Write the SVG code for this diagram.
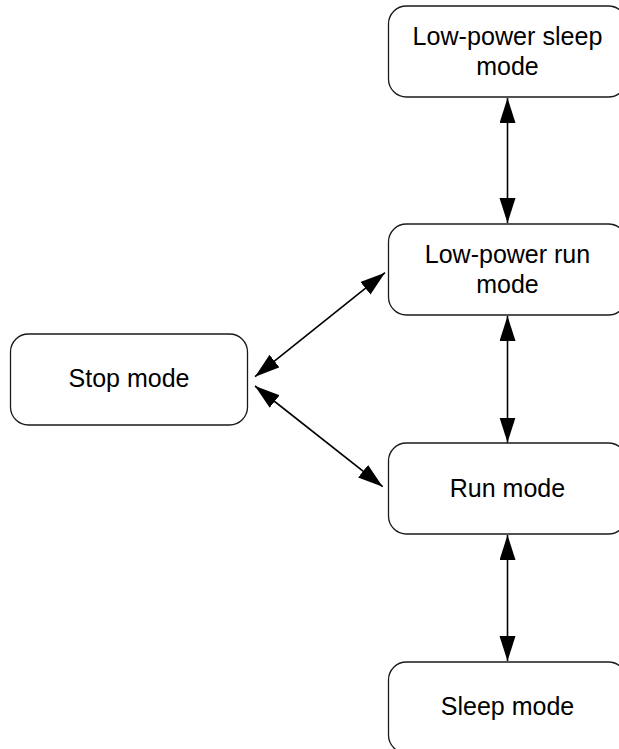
<svg xmlns="http://www.w3.org/2000/svg" width="619" height="749" viewBox="0 0 619 749">
<style>
.box{fill:#fff;stroke:#1a1a1a;stroke-width:1.3}
.lbl{font-family:"Liberation Sans",Arial,sans-serif;font-size:25px;fill:#000;text-anchor:middle}
.con{stroke:#000;stroke-width:1.6;fill:none;marker-start:url(#ah);marker-end:url(#ah)}
</style>
<defs>
<marker id="ah" markerUnits="userSpaceOnUse" markerWidth="26" markerHeight="18" refX="25" refY="8" orient="auto-start-reverse">
<path d="M0,0 L25,8 L0,16 z" fill="#000"/>
</marker>
</defs>
<rect width="619" height="749" fill="#fff"/>
<g id="lp-sleep">
<rect class="box" x="388.5" y="6" width="238" height="91" rx="18"/>
<text class="lbl" x="507.5" y="45" textLength="190" lengthAdjust="spacingAndGlyphs">Low-power sleep</text>
<text class="lbl" x="507.5" y="75">mode</text>
</g>
<g id="lp-run">
<rect class="box" x="388.5" y="224" width="238" height="91" rx="18"/>
<text class="lbl" x="507.5" y="263">Low-power run</text>
<text class="lbl" x="507.5" y="293">mode</text>
</g>
<g id="stop">
<rect class="box" x="10.5" y="334" width="237" height="91" rx="18"/>
<text class="lbl" x="129" y="387">Stop mode</text>
</g>
<g id="run">
<rect class="box" x="388.5" y="443" width="238" height="91" rx="18"/>
<text class="lbl" x="507.5" y="497">Run mode</text>
</g>
<g id="sleep">
<rect class="box" x="388.5" y="662" width="238" height="91" rx="18"/>
<text class="lbl" x="507.5" y="715">Sleep mode</text>
</g>
<g id="connectors">
<line class="con" x1="507.5" y1="98" x2="507.5" y2="223"/>
<line class="con" x1="507.5" y1="316" x2="507.5" y2="442.5"/>
<line class="con" x1="507.5" y1="535" x2="507.5" y2="661"/>
<line class="con" x1="255" y1="376.7" x2="385" y2="272.7"/>
<line class="con" x1="255" y1="386" x2="382.7" y2="486.7"/>
</g>
</svg>
